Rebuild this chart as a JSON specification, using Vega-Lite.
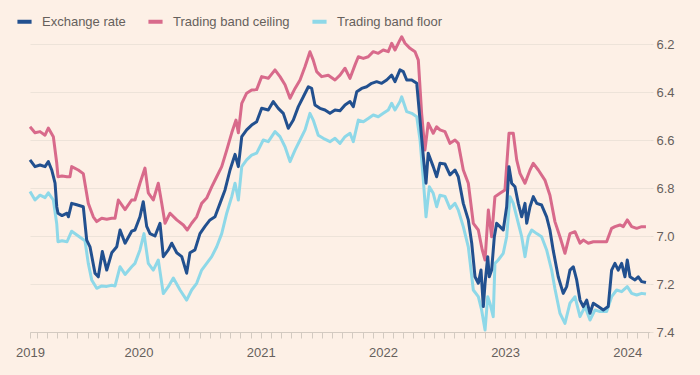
{
  "$schema": "https://vega.github.io/schema/vega-lite/v6.json",
  "width": 620,
  "height": 300,
  "autosize": {"type": "none"},
  "padding": {"left": 30, "top": 32, "right": 50, "bottom": 43},
  "background": "#FDF0E6",
  "config": {"view": {"stroke": null}, "font": "Liberation Sans"},
  "datasets": {
    "ceiling": [
      {"t":2019.112,"v":6.545},{"t":2019.153,"v":6.57},{"t":2019.194,"v":6.565},{"t":2019.235,"v":6.58},{"t":2019.262,"v":6.55},{"t":2019.303,"v":6.586},{"t":2019.331,"v":6.697},{"t":2019.341,"v":6.753},{"t":2019.374,"v":6.75},{"t":2019.415,"v":6.753},{"t":2019.439,"v":6.753},{"t":2019.453,"v":6.711},{"t":2019.507,"v":6.725},{"t":2019.548,"v":6.74},{"t":2019.589,"v":6.864},{"t":2019.630,"v":6.92},{"t":2019.658,"v":6.94},{"t":2019.699,"v":6.926},{"t":2019.740,"v":6.93},{"t":2019.781,"v":6.926},{"t":2019.808,"v":6.926},{"t":2019.835,"v":6.85},{"t":2019.890,"v":6.89},{"t":2019.944,"v":6.85},{"t":2019.971,"v":6.85},
      {"t":2020.012,"v":6.78},{"t":2020.053,"v":6.717},{"t":2020.080,"v":6.82},{"t":2020.121,"v":6.85},{"t":2020.162,"v":6.78},{"t":2020.190,"v":6.864},{"t":2020.217,"v":6.947},{"t":2020.258,"v":6.905},{"t":2020.313,"v":6.933},{"t":2020.367,"v":6.954},{"t":2020.399,"v":6.975},{"t":2020.435,"v":6.947},{"t":2020.476,"v":6.92},{"t":2020.517,"v":6.864},{"t":2020.558,"v":6.842},{"t":2020.599,"v":6.795},{"t":2020.640,"v":6.753},{"t":2020.681,"v":6.711},{"t":2020.722,"v":6.642},{"t":2020.763,"v":6.57},{"t":2020.798,"v":6.517},{"t":2020.817,"v":6.57},{"t":2020.845,"v":6.447},{"t":2020.885,"v":6.405},{"t":2020.926,"v":6.392},{"t":2020.967,"v":6.39},
      {"t":2021.008,"v":6.336},{"t":2021.062,"v":6.343},{"t":2021.117,"v":6.308},{"t":2021.158,"v":6.336},{"t":2021.199,"v":6.37},{"t":2021.240,"v":6.426},{"t":2021.281,"v":6.385},{"t":2021.322,"v":6.35},{"t":2021.363,"v":6.294},{"t":2021.403,"v":6.232},{"t":2021.430,"v":6.267},{"t":2021.458,"v":6.315},{"t":2021.499,"v":6.336},{"t":2021.553,"v":6.33},{"t":2021.608,"v":6.35},{"t":2021.649,"v":6.33},{"t":2021.690,"v":6.301},{"t":2021.731,"v":6.343},{"t":2021.772,"v":6.287},{"t":2021.799,"v":6.253},{"t":2021.840,"v":6.26},{"t":2021.880,"v":6.253},{"t":2021.921,"v":6.232},{"t":2021.962,"v":6.239},
      {"t":2022.003,"v":6.225},{"t":2022.044,"v":6.232},{"t":2022.072,"v":6.197},{"t":2022.099,"v":6.225},{"t":2022.140,"v":6.183},{"t":2022.154,"v":6.17},{"t":2022.181,"v":6.197},{"t":2022.222,"v":6.218},{"t":2022.263,"v":6.232},{"t":2022.290,"v":6.267},{"t":2022.317,"v":6.489},{"t":2022.344,"v":6.642},{"t":2022.371,"v":6.53},{"t":2022.412,"v":6.572},{"t":2022.440,"v":6.545},{"t":2022.467,"v":6.558},{"t":2022.508,"v":6.565},{"t":2022.549,"v":6.614},{"t":2022.590,"v":6.6},{"t":2022.617,"v":6.614},{"t":2022.658,"v":6.725},{"t":2022.699,"v":6.78},{"t":2022.740,"v":6.947},{"t":2022.781,"v":6.975},{"t":2022.813,"v":7.058},{"t":2022.836,"v":7.1},{"t":2022.863,"v":6.892},{"t":2022.890,"v":7.003},{"t":2022.917,"v":6.836},{"t":2022.958,"v":6.822},{"t":2022.999,"v":6.808},
      {"t":2023.032,"v":6.572},{"t":2023.067,"v":6.572},{"t":2023.095,"v":6.683},{"t":2023.122,"v":6.739},{"t":2023.163,"v":6.78},{"t":2023.204,"v":6.725},{"t":2023.231,"v":6.697},{"t":2023.272,"v":6.725},{"t":2023.326,"v":6.767},{"t":2023.367,"v":6.83},{"t":2023.408,"v":6.94},{"t":2023.449,"v":7.003},{"t":2023.490,"v":7.072},{"t":2023.531,"v":6.99},{"t":2023.572,"v":6.982},{"t":2023.613,"v":7.03},{"t":2023.640,"v":7.017},{"t":2023.681,"v":7.03},{"t":2023.722,"v":7.024},{"t":2023.777,"v":7.024},{"t":2023.831,"v":7.024},{"t":2023.872,"v":6.968},{"t":2023.899,"v":6.961},{"t":2023.940,"v":6.954},{"t":2023.967,"v":6.961},{"t":2024.000,"v":6.933},{"t":2024.036,"v":6.961},{"t":2024.077,"v":6.968},{"t":2024.118,"v":6.961},{"t":2024.153,"v":6.961}
    ],
    "floor": [
      {"t":2019.112,"v":6.815},{"t":2019.153,"v":6.85},{"t":2019.194,"v":6.83},{"t":2019.235,"v":6.84},{"t":2019.262,"v":6.82},{"t":2019.303,"v":6.85},{"t":2019.331,"v":6.95},{"t":2019.341,"v":7.024},{"t":2019.374,"v":7.02},{"t":2019.415,"v":7.024},{"t":2019.453,"v":6.98},{"t":2019.507,"v":7.0},{"t":2019.562,"v":7.02},{"t":2019.589,"v":7.114},{"t":2019.617,"v":7.183},{"t":2019.658,"v":7.218},{"t":2019.699,"v":7.208},{"t":2019.740,"v":7.21},{"t":2019.781,"v":7.205},{"t":2019.808,"v":7.208},{"t":2019.849,"v":7.128},{"t":2019.890,"v":7.16},{"t":2019.944,"v":7.128},{"t":2019.971,"v":7.114},
      {"t":2020.012,"v":7.058},{"t":2020.045,"v":6.99},{"t":2020.080,"v":7.114},{"t":2020.121,"v":7.142},{"t":2020.162,"v":7.1},{"t":2020.203,"v":7.24},{"t":2020.244,"v":7.211},{"t":2020.285,"v":7.175},{"t":2020.340,"v":7.225},{"t":2020.394,"v":7.267},{"t":2020.435,"v":7.225},{"t":2020.476,"v":7.197},{"t":2020.517,"v":7.142},{"t":2020.558,"v":7.114},{"t":2020.599,"v":7.086},{"t":2020.640,"v":7.045},{"t":2020.681,"v":6.99},{"t":2020.722,"v":6.905},{"t":2020.763,"v":6.836},{"t":2020.790,"v":6.78},{"t":2020.817,"v":6.85},{"t":2020.845,"v":6.711},{"t":2020.885,"v":6.683},{"t":2020.926,"v":6.663},{"t":2020.967,"v":6.655},
      {"t":2021.021,"v":6.6},{"t":2021.062,"v":6.607},{"t":2021.117,"v":6.565},{"t":2021.158,"v":6.586},{"t":2021.199,"v":6.628},{"t":2021.240,"v":6.69},{"t":2021.281,"v":6.642},{"t":2021.322,"v":6.6},{"t":2021.363,"v":6.558},{"t":2021.403,"v":6.489},{"t":2021.430,"v":6.517},{"t":2021.471,"v":6.58},{"t":2021.512,"v":6.593},{"t":2021.567,"v":6.607},{"t":2021.608,"v":6.593},{"t":2021.649,"v":6.614},{"t":2021.690,"v":6.586},{"t":2021.731,"v":6.572},{"t":2021.758,"v":6.607},{"t":2021.799,"v":6.517},{"t":2021.840,"v":6.524},{"t":2021.880,"v":6.51},{"t":2021.921,"v":6.496},{"t":2021.962,"v":6.503},
      {"t":2022.003,"v":6.489},{"t":2022.044,"v":6.475},{"t":2022.072,"v":6.447},{"t":2022.099,"v":6.475},{"t":2022.140,"v":6.44},{"t":2022.154,"v":6.42},{"t":2022.195,"v":6.482},{"t":2022.236,"v":6.489},{"t":2022.277,"v":6.503},{"t":2022.304,"v":6.6},{"t":2022.331,"v":6.767},{"t":2022.353,"v":6.92},{"t":2022.380,"v":6.795},{"t":2022.412,"v":6.822},{"t":2022.440,"v":6.878},{"t":2022.467,"v":6.83},{"t":2022.508,"v":6.835},{"t":2022.549,"v":6.885},{"t":2022.590,"v":6.864},{"t":2022.617,"v":6.892},{"t":2022.658,"v":6.961},{"t":2022.699,"v":7.045},{"t":2022.740,"v":7.225},{"t":2022.781,"v":7.253},{"t":2022.808,"v":7.308},{"t":2022.836,"v":7.392},{"t":2022.858,"v":7.253},{"t":2022.876,"v":7.28},{"t":2022.903,"v":7.336},{"t":2022.917,"v":7.114},{"t":2022.944,"v":7.1},{"t":2022.985,"v":7.072},
      {"t":2023.013,"v":7.003},{"t":2023.040,"v":6.836},{"t":2023.067,"v":6.864},{"t":2023.095,"v":6.92},{"t":2023.136,"v":7.003},{"t":2023.163,"v":7.086},{"t":2023.190,"v":7.003},{"t":2023.218,"v":6.975},{"t":2023.259,"v":6.99},{"t":2023.299,"v":7.003},{"t":2023.340,"v":7.058},{"t":2023.381,"v":7.142},{"t":2023.408,"v":7.22},{"t":2023.449,"v":7.322},{"t":2023.490,"v":7.364},{"t":2023.531,"v":7.28},{"t":2023.572,"v":7.253},{"t":2023.613,"v":7.336},{"t":2023.654,"v":7.294},{"t":2023.695,"v":7.35},{"t":2023.736,"v":7.308},{"t":2023.777,"v":7.315},{"t":2023.831,"v":7.315},{"t":2023.872,"v":7.253},{"t":2023.913,"v":7.225},{"t":2023.954,"v":7.232},{"t":2024.000,"v":7.211},{"t":2024.036,"v":7.239},{"t":2024.077,"v":7.246},{"t":2024.118,"v":7.239},{"t":2024.153,"v":7.242}
    ],
    "rate": [
      {"t":2019.112,"v":6.683},{"t":2019.153,"v":6.711},{"t":2019.194,"v":6.704},{"t":2019.235,"v":6.711},{"t":2019.262,"v":6.69},{"t":2019.290,"v":6.725},{"t":2019.317,"v":6.78},{"t":2019.331,"v":6.878},{"t":2019.341,"v":6.905},{"t":2019.374,"v":6.915},{"t":2019.415,"v":6.905},{"t":2019.426,"v":6.92},{"t":2019.453,"v":6.864},{"t":2019.494,"v":6.87},{"t":2019.548,"v":6.878},{"t":2019.576,"v":7.017},{"t":2019.603,"v":7.045},{"t":2019.644,"v":7.155},{"t":2019.671,"v":7.17},{"t":2019.704,"v":7.065},{"t":2019.740,"v":7.142},{"t":2019.781,"v":7.07},{"t":2019.822,"v":7.045},{"t":2019.849,"v":6.975},{"t":2019.890,"v":7.03},{"t":2019.944,"v":6.98},{"t":2019.971,"v":6.975},
      {"t":2020.012,"v":6.92},{"t":2020.039,"v":6.857},{"t":2020.067,"v":6.96},{"t":2020.094,"v":6.99},{"t":2020.135,"v":7.0},{"t":2020.176,"v":6.947},{"t":2020.203,"v":7.086},{"t":2020.244,"v":7.058},{"t":2020.272,"v":7.03},{"t":2020.313,"v":7.07},{"t":2020.354,"v":7.086},{"t":2020.394,"v":7.155},{"t":2020.421,"v":7.07},{"t":2020.462,"v":7.058},{"t":2020.503,"v":6.99},{"t":2020.544,"v":6.96},{"t":2020.585,"v":6.933},{"t":2020.626,"v":6.92},{"t":2020.667,"v":6.864},{"t":2020.708,"v":6.808},{"t":2020.749,"v":6.725},{"t":2020.790,"v":6.66},{"t":2020.817,"v":6.711},{"t":2020.845,"v":6.586},{"t":2020.885,"v":6.558},{"t":2020.926,"v":6.538},{"t":2020.967,"v":6.524},
      {"t":2021.008,"v":6.468},{"t":2021.062,"v":6.475},{"t":2021.103,"v":6.44},{"t":2021.144,"v":6.468},{"t":2021.185,"v":6.489},{"t":2021.226,"v":6.551},{"t":2021.267,"v":6.517},{"t":2021.308,"v":6.461},{"t":2021.349,"v":6.42},{"t":2021.390,"v":6.378},{"t":2021.417,"v":6.385},{"t":2021.444,"v":6.454},{"t":2021.485,"v":6.468},{"t":2021.526,"v":6.475},{"t":2021.567,"v":6.489},{"t":2021.608,"v":6.475},{"t":2021.649,"v":6.478},{"t":2021.690,"v":6.454},{"t":2021.731,"v":6.44},{"t":2021.758,"v":6.461},{"t":2021.786,"v":6.399},{"t":2021.826,"v":6.385},{"t":2021.867,"v":6.378},{"t":2021.908,"v":6.364},{"t":2021.949,"v":6.357},{"t":2021.990,"v":6.364},
      {"t":2022.031,"v":6.35},{"t":2022.072,"v":6.33},{"t":2022.099,"v":6.357},{"t":2022.140,"v":6.308},{"t":2022.167,"v":6.315},{"t":2022.195,"v":6.35},{"t":2022.236,"v":6.35},{"t":2022.277,"v":6.364},{"t":2022.304,"v":6.517},{"t":2022.331,"v":6.67},{"t":2022.353,"v":6.78},{"t":2022.371,"v":6.655},{"t":2022.412,"v":6.711},{"t":2022.440,"v":6.753},{"t":2022.467,"v":6.697},{"t":2022.508,"v":6.7},{"t":2022.549,"v":6.745},{"t":2022.590,"v":6.725},{"t":2022.617,"v":6.753},{"t":2022.658,"v":6.864},{"t":2022.699,"v":6.933},{"t":2022.727,"v":7.03},{"t":2022.754,"v":7.17},{"t":2022.781,"v":7.197},{"t":2022.803,"v":7.142},{"t":2022.822,"v":7.294},{"t":2022.836,"v":7.197},{"t":2022.858,"v":7.086},{"t":2022.871,"v":7.17},{"t":2022.890,"v":7.142},{"t":2022.912,"v":7.003},{"t":2022.931,"v":6.947},{"t":2022.958,"v":6.961},{"t":2022.985,"v":6.975},
      {"t":2023.013,"v":6.878},{"t":2023.032,"v":6.711},{"t":2023.054,"v":6.78},{"t":2023.081,"v":6.795},{"t":2023.108,"v":6.864},{"t":2023.136,"v":6.92},{"t":2023.163,"v":6.864},{"t":2023.177,"v":6.947},{"t":2023.204,"v":6.878},{"t":2023.231,"v":6.836},{"t":2023.259,"v":6.864},{"t":2023.299,"v":6.871},{"t":2023.340,"v":6.92},{"t":2023.367,"v":6.975},{"t":2023.394,"v":7.06},{"t":2023.435,"v":7.17},{"t":2023.476,"v":7.239},{"t":2023.504,"v":7.211},{"t":2023.531,"v":7.142},{"t":2023.558,"v":7.128},{"t":2023.586,"v":7.183},{"t":2023.613,"v":7.267},{"t":2023.640,"v":7.294},{"t":2023.668,"v":7.267},{"t":2023.695,"v":7.322},{"t":2023.722,"v":7.28},{"t":2023.763,"v":7.294},{"t":2023.804,"v":7.308},{"t":2023.844,"v":7.294},{"t":2023.872,"v":7.142},{"t":2023.899,"v":7.114},{"t":2023.926,"v":7.142},{"t":2023.954,"v":7.114},{"t":2023.981,"v":7.17},{"t":2024.000,"v":7.1},{"t":2024.022,"v":7.17},{"t":2024.063,"v":7.183},{"t":2024.090,"v":7.17},{"t":2024.118,"v":7.19},{"t":2024.153,"v":7.194}
    ]
  },
  "encoding": {
    "x": {
      "field": "t",
      "type": "quantitative",
      "scale": {"domain": [2019.112, 2024.186], "nice": false, "zero": false},
      "axis": {
        "title": null,
        "grid": false,
        "values": [2019.112, 2019.1667, 2019.25, 2019.3333, 2019.4167, 2019.5, 2019.5833, 2019.6667, 2019.75, 2019.8333, 2019.9167,
          2020, 2020.0833, 2020.1667, 2020.25, 2020.3333, 2020.4167, 2020.5, 2020.5833, 2020.6667, 2020.75, 2020.8333, 2020.9167,
          2021, 2021.0833, 2021.1667, 2021.25, 2021.3333, 2021.4167, 2021.5, 2021.5833, 2021.6667, 2021.75, 2021.8333, 2021.9167,
          2022, 2022.0833, 2022.1667, 2022.25, 2022.3333, 2022.4167, 2022.5, 2022.5833, 2022.6667, 2022.75, 2022.8333, 2022.9167,
          2023, 2023.0833, 2023.1667, 2023.25, 2023.3333, 2023.4167, 2023.5, 2023.5833, 2023.6667, 2023.75, 2023.8333, 2023.9167,
          2024, 2024.0833, 2024.1667],
        "labelExpr": "datum.value == 2019.112 ? '2019' : (datum.value % 1 == 0 ? format(datum.value, 'd') : '')",
        "labelOverlap": false,
        "labelFlush": false,
        "domainColor": "#D3CAC1",
        "tickColor": "#D3CAC1",
        "tickSize": 6,
        "labelPadding": 8,
        "labelFontSize": 13,
        "labelColor": "#66605C"
      }
    },
    "y": {
      "field": "v",
      "type": "quantitative",
      "scale": {"domain": [6.15, 7.4], "reverse": true, "nice": false, "zero": false},
      "axis": {
        "orient": "right",
        "title": null,
        "values": [6.2, 6.4, 6.6, 6.8, 7.0, 7.2, 7.4],
        "format": ".1f",
        "domain": false,
        "ticks": true,
        "tickSize": 3,
        "tickColor": "#E8DED4",
        "gridColor": "#EDE3D9",
        "labelPadding": 3,
        "labelFontSize": 13,
        "labelColor": "#66605C"
      }
    }
  },
  "layer": [
    {
      "data": {"name": "ceiling"},
      "mark": {"type": "line", "strokeWidth": 3, "strokeJoin": "round"},
      "encoding": {
        "color": {
          "datum": "Trading band ceiling",
          "type": "nominal",
          "scale": {"domain": ["Exchange rate", "Trading band ceiling", "Trading band floor"], "range": ["#22508F", "#D86A8B", "#8ED8E8"]},
          "legend": {
            "orient": "none",
            "legendX": -15,
            "legendY": -20,
            "direction": "horizontal",
            "title": null,
            "symbolType": "stroke",
            "symbolStrokeWidth": 4,
            "symbolSize": 200,
            "labelFontSize": 13,
            "labelColor": "#66605C",
            "labelOffset": 8,
            "columnPadding": 14
          }
        }
      }
    },
    {
      "data": {"name": "floor"},
      "mark": {"type": "line", "strokeWidth": 3, "strokeJoin": "round"},
      "encoding": {"color": {"datum": "Trading band floor", "type": "nominal"}}
    },
    {
      "data": {"name": "rate"},
      "mark": {"type": "line", "strokeWidth": 3, "strokeJoin": "round"},
      "encoding": {"color": {"datum": "Exchange rate", "type": "nominal"}}
    }
  ]
}
